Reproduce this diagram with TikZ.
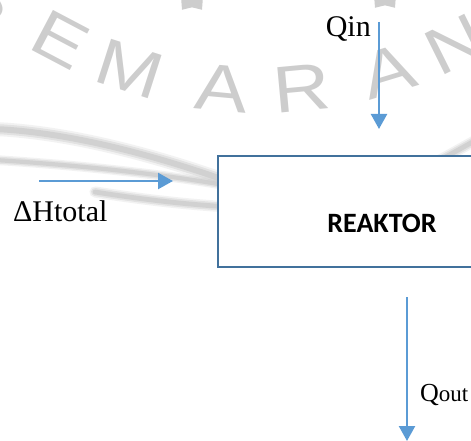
\documentclass[tikz,border=0pt]{standalone}
\usepackage{fontspec}
\setmainfont{Liberation Serif}
\newfontfamily\boxfont{Carlito}
\newfontfamily\markfont{Liberation Sans}
\usetikzlibrary{arrows.meta,shapes.geometric}
\definecolor{flowblue}{HTML}{5B9BD5}
\definecolor{boxline}{HTML}{41719C}
\definecolor{markgray}{HTML}{CDCDCD}
\tikzset{
  flow/.style={draw=flowblue, line width=2.3pt, -{Triangle[length=15pt,width=16pt]}},
  lbl/.style={font=\fontsize{30}{30}\selectfont, inner sep=0pt},
  wmletter/.style={text=markgray, font=\markfont\fontsize{66}{66}\selectfont, inner sep=0pt},
  swoosh/.style={draw=markgray, line cap=round},
}
\begin{document}
\begin{tikzpicture}[x=1pt, y=-1pt]
\useasboundingbox (0,0) rectangle (471,441);
\begin{scope}
\clip (0,0) rectangle (471,441);
% faint background emblem: lettering along an arc and wave bands
\foreach \a/\ch in {-39/S, -27.8/E, -17.8/M, -5.3/A, 5.3/R, 16.9/A, 26.4/N}
  \node[wmletter, rotate=\a] at ({262+433*sin(\a)}, {-343+433*cos(\a)}) {\scalebox{1.2}[1]{\ch}};
\node[star, star points=5, fill=markgray, minimum size=34pt, inner sep=0pt] (st1) at (192,-4) {};
\node[star, star points=5, fill=markgray, minimum size=34pt, inner sep=0pt] (st2) at (385,-6) {};
\foreach \w/\o in {14/0.25, 10/0.45, 6/0.8} {
  \pgfmathsetmacro{\wa}{\w*0.7}
  \pgfmathsetmacro{\wb}{\w*0.8}
  \draw[swoosh, line width=\w pt, opacity=\o] (-5,129) .. controls (60,132) and (140,150) .. (230,182);
  \draw[swoosh, line width=\wa pt, opacity=\o] (-5,160) .. controls (60,164) and (150,172) .. (230,186);
  \draw[swoosh, line width=\wb pt, opacity=\o] (95,192) .. controls (140,199) and (180,204) .. (230,207);
  \draw[swoosh, line width=\wb pt, opacity=\o] (440,160) .. controls (455,152) and (465,146) .. (480,138);
}
% process block
\node[draw=boxline, fill=white, line width=1.6pt, minimum width=263pt, minimum height=111pt, anchor=north west, inner sep=0pt] (reaktor) at (217,155) {};
\end{scope}
\node[font=\boxfont\bfseries\fontsize{28}{28}\selectfont, inner sep=0pt, anchor=base] (rtext) at (382,232) {REAKTOR};
% streams
\coordinate (qinstart) at (379,22);
\coordinate (qintip) at (379,129);
\draw[flow] (qinstart) -- (qintip);
\node[lbl, anchor=base east] (qin) at (371,37) {Qin};
\coordinate (hstart) at (39,181);
\coordinate (htip) at (173,181);
\draw[flow] (hstart) -- (htip);
\node[lbl, anchor=base west] (dh) at (13,221) {ΔHtotal};
\coordinate (qoutstart) at (407,297);
\coordinate (qouttip) at (407,441);
\draw[flow] (qoutstart) -- (qouttip);
\node[inner sep=0pt, anchor=base west] (qout) at (420,401) {\fontsize{26}{26}\selectfont Q\fontsize{23}{23}\selectfont out};
\end{tikzpicture}
\end{document}
